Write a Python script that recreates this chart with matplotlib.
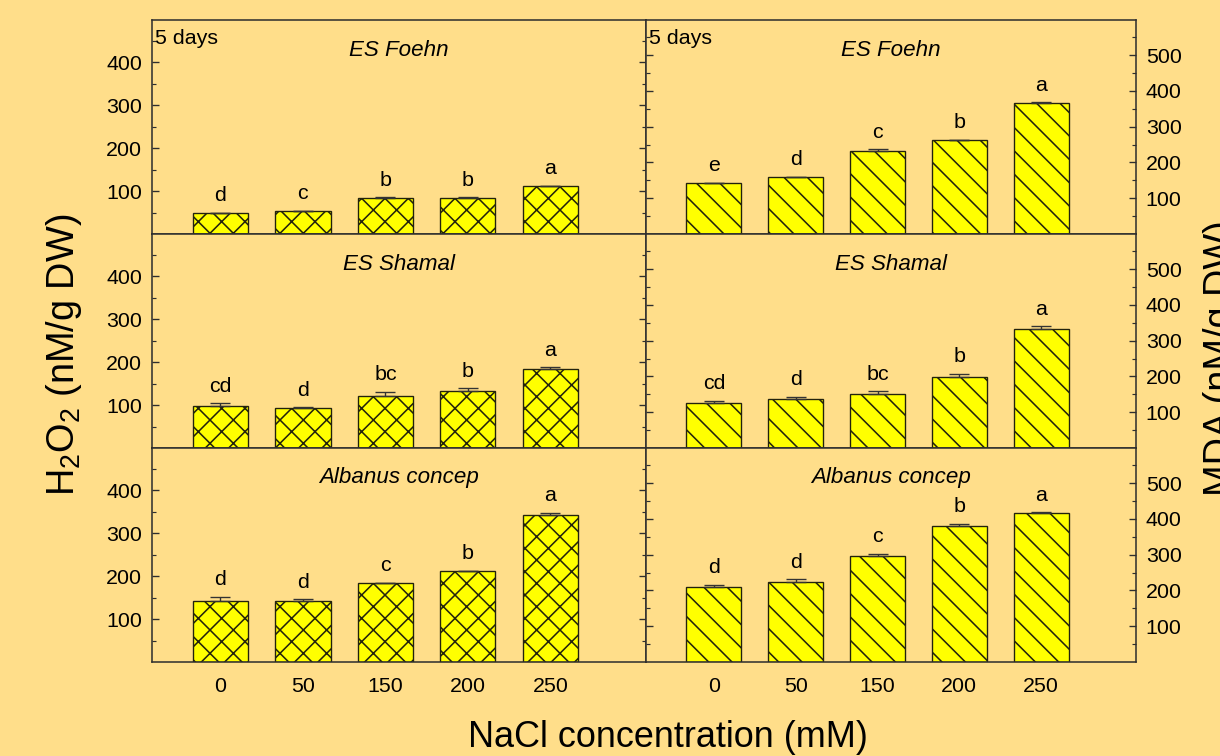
import numpy as np
import matplotlib.pyplot as plt
from matplotlib.ticker import FixedLocator

plt.rcParams['font.family'] = ['Liberation Sans', 'DejaVu Sans']
plt.rcParams['mathtext.fontset'] = 'custom'
plt.rcParams['mathtext.rm'] = 'Liberation Sans'
plt.rcParams['hatch.linewidth'] = 0.8

# data
nacl = ['0', '50', '150', '200', '250']
cultivars = ['ES Foehn', 'ES Shamal', 'Albanus concep']

h2o2_foehn = [48, 53, 83, 84, 111]
h2o2_foehn_err = [2, 1, 2, 1, 1]
h2o2_foehn_lab = ['d', 'c', 'b', 'b', 'a']
h2o2_shamal = [98, 94, 121, 132, 184]
h2o2_shamal_err = [6, 1, 9, 7, 4]
h2o2_shamal_lab = ['cd', 'd', 'bc', 'b', 'a']
h2o2_albanus = [143, 141, 183, 211, 343]
h2o2_albanus_err = [8, 5, 1, 1, 4]
h2o2_albanus_lab = ['d', 'd', 'c', 'b', 'a']

mda_foehn = [142, 158, 233, 263, 367]
mda_foehn_err = [1, 1, 4, 1, 1]
mda_foehn_lab = ['e', 'd', 'c', 'b', 'a']
mda_shamal = [127, 137, 151, 199, 333]
mda_shamal_err = [4, 6, 7, 8, 7]
mda_shamal_lab = ['cd', 'd', 'bc', 'b', 'a']
mda_albanus = [210, 224, 297, 381, 417]
mda_albanus_err = [5, 7, 5, 6, 1]
mda_albanus_lab = ['d', 'd', 'c', 'b', 'a']

h2o2 = [(h2o2_foehn, h2o2_foehn_err, h2o2_foehn_lab),
        (h2o2_shamal, h2o2_shamal_err, h2o2_shamal_lab),
        (h2o2_albanus, h2o2_albanus_err, h2o2_albanus_lab)]
mda = [(mda_foehn, mda_foehn_err, mda_foehn_lab),
       (mda_shamal, mda_shamal_err, mda_shamal_lab),
       (mda_albanus, mda_albanus_err, mda_albanus_lab)]

W, H, DPI = 1220, 756, 140
bg = '#FFDE8A'
fig = plt.figure(figsize=(W / DPI, H / DPI), dpi=DPI, facecolor=bg)

x = np.arange(len(nacl))
row_bottoms = [234, 448, 662]
row_h = 214
spine_col = '#2e2e2e'


def panel(ax, data, hatch, ymax, majors, minors, right):
    vals, errs, labs = data
    ax.set_facecolor(bg)
    ax.bar(x, vals, width=0.67, color='#FFFF00', edgecolor='#22220c',
           linewidth=0.7, hatch=hatch, zorder=2)
    ax.errorbar(x, vals, yerr=[np.zeros(len(errs)), errs], fmt='none',
                ecolor='#333333', elinewidth=0.7, capsize=5, capthick=0.7,
                zorder=3)
    for xi, v, e, lab in zip(x, vals, errs, labs):
        ax.annotate(lab, (xi, v + e), xytext=(0, 6), textcoords='offset points',
                    ha='center', va='baseline', fontsize=11)
    ax.set_ylim(0, ymax)
    ax.set_xlim(-0.83, 5.16)
    ax.yaxis.set_major_locator(FixedLocator(majors))
    ax.yaxis.set_minor_locator(FixedLocator(minors))
    ax.tick_params(axis='y', which='both', direction='in', left=True,
                   right=True, labelleft=not right, labelright=right,
                   labelsize=11, pad=5, color=spine_col)
    ax.tick_params(axis='y', which='major', length=3.5, width=0.7)
    ax.tick_params(axis='y', which='minor', length=2, width=0.6)
    ax.tick_params(axis='x', length=0, labelsize=11, pad=7.5)
    ax.set_xticks(x)
    for s in ax.spines.values():
        s.set_color(spine_col)
        s.set_linewidth(0.8)


for r in range(3):
    b = row_bottoms[r]
    axl = fig.add_axes([152 / W, (H - b) / H, 494 / W, row_h / H])
    axr = fig.add_axes([646 / W, (H - b) / H, 490 / W, row_h / H])
    panel(axl, h2o2[r], 'xx', 498, [100, 200, 300, 400], [50, 150, 250, 350, 450], False)
    panel(axr, mda[r], '\\\\', 598, [100, 200, 300, 400, 500], [50, 150, 250, 350, 450, 550], True)
    for ax in (axl, axr):
        ax.text(0.5, 1 - 30 / row_h, cultivars[r], transform=ax.transAxes,
                ha='center', va='center', fontsize=11.5, style='italic')
        if r == 0:
            ax.text(0.007, 1 - 9 / row_h, '5 days', transform=ax.transAxes,
                    ha='left', va='top', fontsize=11)
        if r < 2:
            ax.set_xticklabels([])
        else:
            ax.set_xticklabels(nacl)

fig.text(668 / W, 1 - 747 / H, 'NaCl concentration (mM)', ha='center',
         va='baseline', fontsize=18.5)
fig.text(64 / W, 1 - 355 / H, r'$\mathregular{H_2O_2}$ (nM/g DW)', rotation=90,
         ha='center', va='center', fontsize=19.5)
fig.text(1203 / W, 1 - 358 / H, 'MDA (nM/g DW)', rotation=90,
         ha='left', va='center', fontsize=19.5)

fig.savefig('out.png', dpi=DPI, facecolor=bg)
